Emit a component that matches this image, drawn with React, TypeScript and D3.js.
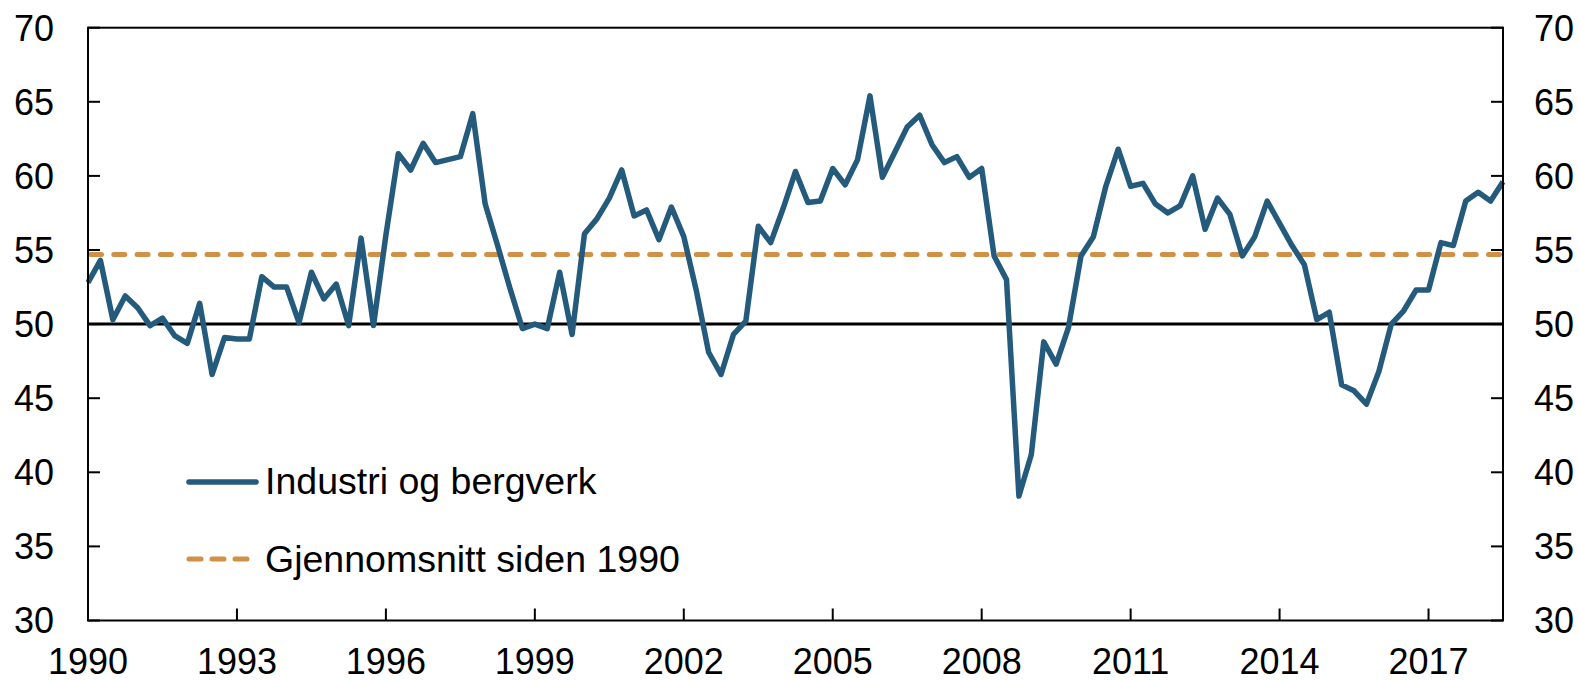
import React from 'react';
import * as d3 from 'd3';

// quarterly index, 1990Q1 - 2018Q3
const years = d3.range(1990, 2019);
const industri = [
  52.8, 54.3, 50.3, 51.9,
  51.1, 49.9, 50.4, 49.2,
  48.7, 51.4, 46.6, 49.1,
  49.0, 49.0, 53.2, 52.5,
  52.5, 50.1, 53.5, 51.7,
  52.7, 49.9, 55.8, 49.9,
  56.0, 61.5, 60.4, 62.2,
  60.9, 61.1, 61.3, 64.2,
  58.1, 55.3, 52.4, 49.7,
  50.0, 49.7, 53.5, 49.3,
  56.1, 57.1, 58.5, 60.4,
  57.3, 57.7, 55.7, 57.9,
  55.9, 52.3, 48.1, 46.6,
  49.3, 50.2, 56.6, 55.5,
  57.8, 60.3, 58.2, 58.3,
  60.5, 59.4, 61.1, 65.4,
  59.9, 61.6, 63.3, 64.1,
  62.1, 60.9, 61.3, 59.9,
  60.5, 54.6, 53.0, 38.4,
  41.2, 48.8, 47.3, 49.8,
  54.6, 55.9, 59.3, 61.8,
  59.3, 59.5, 58.1, 57.5,
  58.0, 60.0, 56.4, 58.5,
  57.4, 54.6, 55.9, 58.3,
  56.8, 55.3, 54.0, 50.3,
  50.8, 45.9, 45.5, 44.6,
  46.8, 50.0, 50.9, 52.3,
  52.3, 55.5, 55.3, 58.3,
  58.9, 58.3, 59.6,
];
const snitt = 54.7;
const xTicks = [1990, 1993, 1996, 1999, 2002, 2005, 2008, 2011, 2014, 2017];
const yTicks = [30, 35, 40, 45, 50, 55, 60, 65, 70];
const legendLabels = ['Industri og bergverk', 'Gjennomsnitt siden 1990'];

const W = 1579;
const H = 681;
const BLUE = '#245b7c';
const ORANGE = '#d09045';
const FONT = '"Liberation Sans", Arial, sans-serif';

export default function App() {
  const left = 88, right = 1503, top = 27.7, bottom = 620.5;
  const x = d3.scaleLinear().domain([1990, 2018.5]).range([left, right]);
  const y = d3.scaleLinear().domain([30, 70]).range([bottom, top]);

  const points = industri.map((v, i) => ({ t: years[0] + i / 4, v }));
  const line = d3.line<{ t: number; v: number }>()
    .x(d => x(d.t))
    .y(d => y(d.v));

  const tickLen = 12;

  return (
    <svg
      width={W}
      height={H}
      style={{ position: 'absolute', left: 0, top: 0, background: '#fff' }}
      fontFamily={FONT}
    >
      {/* 50 reference line */}
      <line x1={left} x2={right} y1={y(50)} y2={y(50)} stroke="#000" strokeWidth={3} />

      {/* average */}
      <line
        x1={x(1990) + 2.5}
        x2={right}
        y1={y(snitt)}
        y2={y(snitt)}
        stroke={ORANGE}
        strokeWidth={5}
        strokeDasharray="11 12.3"
        strokeLinecap="round"
      />

      {/* series */}
      <path d={line(points) || ''} fill="none" stroke={BLUE} strokeWidth={5.5} strokeLinejoin="round" />

      {/* frame */}
      <rect x={left} y={top} width={right - left} height={bottom - top} fill="none" stroke="#000" strokeWidth={2} />

      {/* y ticks both sides */}
      {yTicks.map(t => (
        <g key={t}>
          <line x1={left} x2={left + tickLen} y1={y(t)} y2={y(t)} stroke="#000" strokeWidth={2} />
          <line x1={right - tickLen} x2={right} y1={y(t)} y2={y(t)} stroke="#000" strokeWidth={2} />
          <text x={54} y={y(t)} dy="0.36em" textAnchor="end" fontSize={36} fill="#000">{t}</text>
          <text x={1534} y={y(t)} dy="0.36em" textAnchor="start" fontSize={36} fill="#000">{t}</text>
        </g>
      ))}

      {/* x ticks */}
      {xTicks.map(t => (
        <g key={t}>
          <line x1={x(t)} x2={x(t)} y1={bottom} y2={bottom - tickLen} stroke="#000" strokeWidth={2} />
          <text x={x(t)} y={674} textAnchor="middle" fontSize={36} fill="#000">{t}</text>
        </g>
      ))}

      {/* legend */}
      <g>
        <line x1={189} x2={256} y1={482} y2={482} stroke={BLUE} strokeWidth={5.5} strokeLinecap="round" />
        <text x={265} y={494} fontSize={37.5} fill="#000">{legendLabels[0]}</text>
        <line
          x1={189}
          x2={250}
          y1={559}
          y2={559}
          stroke={ORANGE}
          strokeWidth={5}
          strokeDasharray="12 11"
          strokeLinecap="round"
        />
        <text x={265} y={572} fontSize={37.5} fill="#000">{legendLabels[1]}</text>
      </g>
    </svg>
  );
}
